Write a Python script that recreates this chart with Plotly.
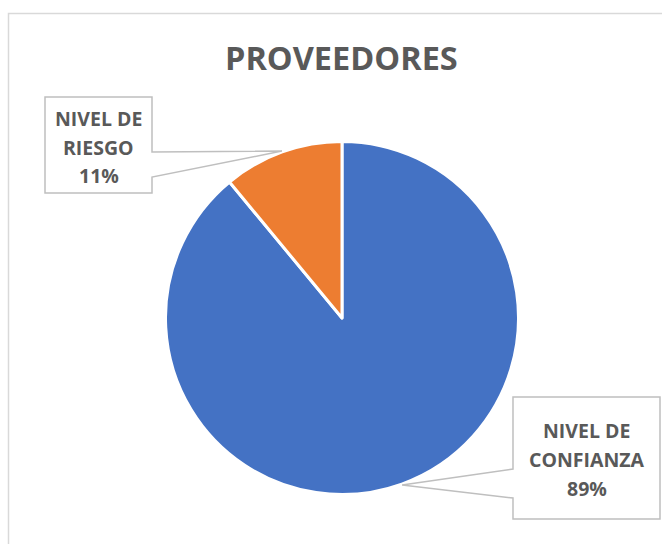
import math
import plotly.graph_objects as go

# Data
categories = ["NIVEL DE CONFIANZA", "NIVEL DE RIESGO"]
label_lines = [["NIVEL DE", "CONFIANZA"], ["NIVEL DE", "RIESGO"]]
values = [89, 11]
colors = ["#4472C4", "#ED7D31"]
title_text = "PROVEEDORES"

W, H = 662, 544
TEXT = "#595959"
FONT = "Open Sans"

def px(x):
    return x / W

def py(y):
    return 1 - y / H

# Pie geometry in pixels
cx, cy, R = 342, 318, 176.5

fig = go.Figure(go.Pie(
    labels=categories,
    values=values,
    marker=dict(colors=colors, line=dict(color="white", width=3)),
    sort=False,
    direction="clockwise",
    rotation=0,
    textinfo="none",
    hoverinfo="label+percent",
    showlegend=False,
    domain=dict(x=[px(cx - R), px(cx + R)], y=[py(cy + R), py(cy - R)]),
))

shapes = []
annotations = []

# Outer chart frame
shapes.append(dict(type="rect", xref="paper", yref="paper",
                   x0=px(8.5), x1=px(680), y0=py(560), y1=py(13.5),
                   line=dict(color="#D9D9D9", width=1.5), layer="below"))

# Callout boxes: (left, top, right, bottom), pointer side, pointer base y-range, line centres
boxes = [
    dict(box=(513, 397, 660, 519), side="left", base=(469, 498), lines_y=(430, 459, 488)),
    dict(box=(45, 97, 152, 193), side="right", base=(152, 177), lines_y=(118, 147, 175)),
]

total = sum(values)
cum = 0
for i, v in enumerate(values):
    pct = v / total
    mid = (cum + v / 2) / total
    cum += v
    ang = mid * 2 * math.pi  # clockwise from 12 o'clock
    ax = cx + R * 1.005 * math.sin(ang)
    ay = cy - R * 1.005 * math.cos(ang)
    b = boxes[i]
    l, t, r, btm = b["box"]
    y0, y1 = b["base"]
    if b["side"] == "left":
        pts = [(l, t), (r, t), (r, btm), (l, btm), (l, y1), (ax, ay), (l, y0)]
    else:
        pts = [(l, t), (r, t), (r, y0), (ax, ay), (r, y1), (r, btm), (l, btm)]
    path = "M " + " L ".join(f"{px(x):.5f},{py(y):.5f}" for x, y in pts) + " Z"
    shapes.append(dict(type="path", xref="paper", yref="paper", path=path,
                       fillcolor="white", line=dict(color="#BFBFBF", width=1.5)))
    texts = label_lines[i] + [f"{round(pct * 100)}%"]
    for txt, ly in zip(texts, b["lines_y"]):
        annotations.append(dict(
            text=f"<b>{txt}</b>", xref="paper", yref="paper",
            x=px((l + r) / 2), y=py(ly), xanchor="center", yanchor="middle",
            showarrow=False, font=dict(family=FONT, size=19.5, color=TEXT)))

# Title
annotations.append(dict(
    text=f"<b>{title_text}</b>", xref="paper", yref="paper",
    x=px(341.5), y=py(58), xanchor="center", yanchor="middle",
    showarrow=False, font=dict(family=FONT, size=32.5, color=TEXT)))

fig.update_layout(
    width=W, height=H,
    margin=dict(l=0, r=0, t=0, b=0),
    paper_bgcolor="white", plot_bgcolor="white",
    shapes=shapes, annotations=annotations,
)

fig.write_html("out.html")
